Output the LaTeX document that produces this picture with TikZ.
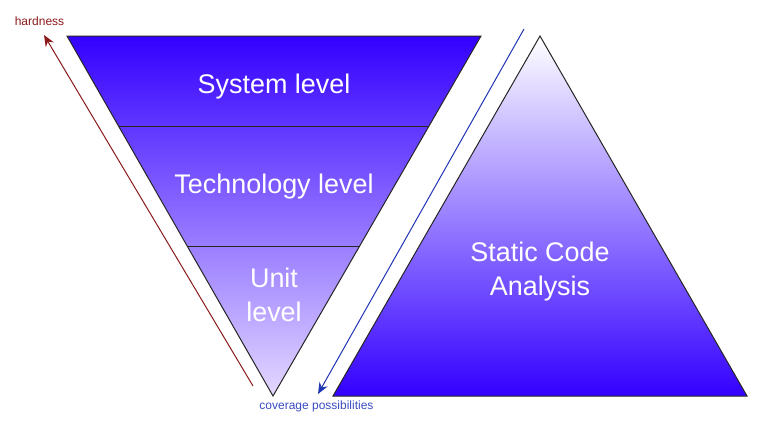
\documentclass[tikz,border=0pt]{standalone}
\usepackage{fontspec}
\setmainfont{Liberation Sans}
\usetikzlibrary{arrows.meta}
\definecolor{deep}{HTML}{3300FF}
\definecolor{pale}{HTML}{E4D8FF}
\definecolor{hardred}{HTML}{8B1A1A}
\definecolor{covblue}{HTML}{2035B5}
\definecolor{covtext}{HTML}{3A4BBF}
\begin{document}
\begin{tikzpicture}[x=0.75pt,y=-0.75pt,
  big/.style={text=white,font=\fontsize{20.2}{25.5}\selectfont,align=center,inner sep=0pt},
  small/.style={font=\fontsize{9}{11}\selectfont,inner sep=0pt},
  outline/.style={draw=black!85,line width=0.75pt,line join=miter},
  arr/.style={line width=0.75pt,-{Stealth[length=8.5pt,width=7pt]}}]
\useasboundingbox (0,0) rectangle (763,429);
% inverted triangle
\coordinate (tl) at (67,36);
\coordinate (tr) at (481,36);
\coordinate (bv) at (273,396);
\coordinate (l1) at (118.5,126);
\coordinate (r1) at (429,126);
\coordinate (l2) at (187.2,246);
\coordinate (r2) at (359.7,246);
\shade[top color=deep,bottom color=pale] (tl) -- (tr) -- (bv) -- cycle;
\draw[outline] (tl) -- (tr) -- (bv) -- cycle;
\draw[outline] (l1) -- (r1);
\draw[outline] (l2) -- (r2);
\node[big,anchor=base] (sys) at (274,93) {System level};
\node[big,anchor=base] (tech) at (274,193) {Technology level};
\node[big] (unit) at (274,295) {Unit\\level};
% upright triangle
\coordinate (apex) at (540,36);
\coordinate (bl) at (333,396);
\coordinate (br) at (747,396);
\shade[top color=white,bottom color=deep] (apex) -- (br) -- (bl) -- cycle;
\draw[outline] (apex) -- (br) -- (bl) -- cycle;
\node[big] (sca) at (540,272) {Static Code\\Analysis};
% arrows
\coordinate (hs) at (253,386);
\coordinate (he) at (44,35);
\draw[arr,hardred] (hs) -- (he);
\node[small,text=hardred] (hard) at (39.5,21) {hardness};
\coordinate (cs) at (524,29);
\coordinate (ce) at (318,394);
\draw[arr,covblue] (cs) -- (ce);
\node[small,text=covtext] (cov) at (316.5,406) {coverage possibilities};
\end{tikzpicture}
\end{document}
